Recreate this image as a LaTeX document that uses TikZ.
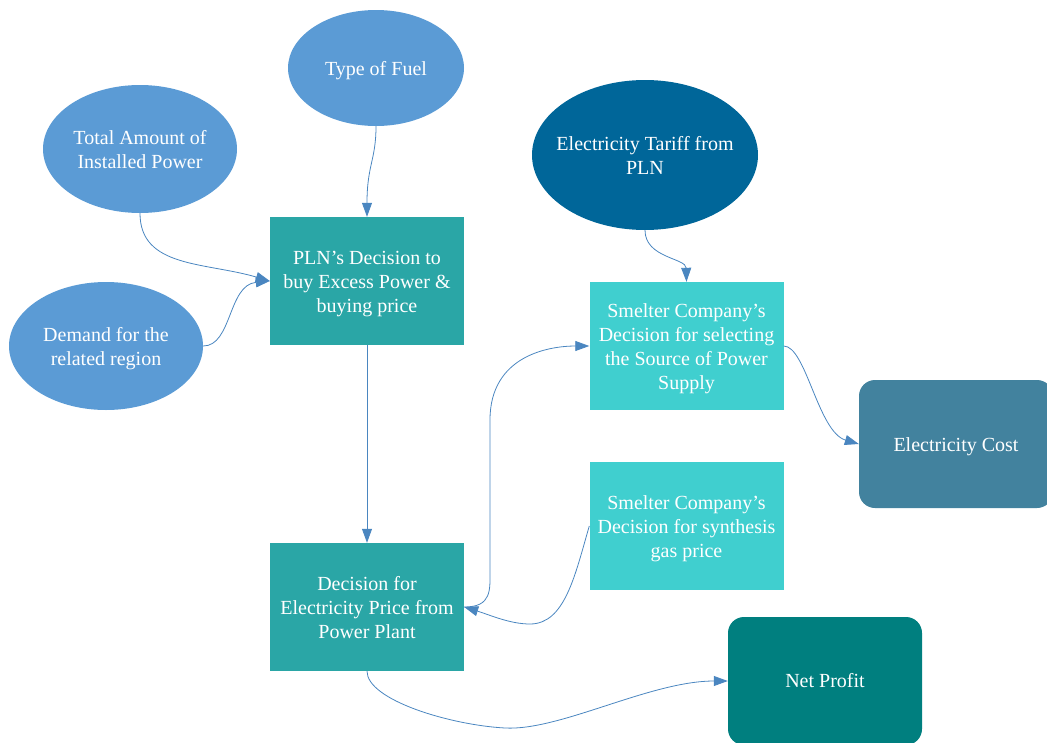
\documentclass[tikz,border=0pt]{standalone}
\usepackage{fontspec}
\setmainfont{Liberation Serif}
\usetikzlibrary{shapes.geometric,arrows.meta}

\definecolor{ovalblue}{RGB}{91,155,213}
\definecolor{deepblue}{RGB}{0,102,153}
\definecolor{tealbox}{RGB}{42,166,166}
\definecolor{cyanbox}{RGB}{64,207,207}
\definecolor{costbox}{RGB}{66,130,158}
\definecolor{profitbox}{RGB}{0,127,127}
\definecolor{linkblue}{RGB}{74,134,192}

% centred lines, set a little low, that never widen the surrounding shape
\newcommand{\centredlines}[1]{\makebox[0pt][c]{\raisebox{-2.5pt}[\height][\depth]{\begin{tabular}{@{}c@{}}#1\end{tabular}}}}

\tikzset{
  label font/.style={font=\fontsize{20}{24}\selectfont, text=white, align=center},
  oval/.style={ellipse, fill=ovalblue, draw=none, inner sep=0pt, label font},
  decisionbox/.style={rectangle, draw=none, inner sep=0pt, minimum width=194pt, minimum height=128pt, label font},
  valuebox/.style={rectangle, rounded corners=16pt, draw=none, inner sep=0pt, minimum width=194pt, minimum height=128pt, label font},
  link/.style={draw=linkblue, line width=0.8pt, -{Triangle[length=14pt,width=10pt]}}
}

\begin{document}
\begin{tikzpicture}[x=1pt, y=-1pt]
\useasboundingbox (0,0) rectangle (1047,742);
\clip (0,0) rectangle (1047,742);

% chance nodes
\node[oval, minimum width=176pt, minimum height=116pt] (fuel) at (376,68) {\centredlines{Type of Fuel}};
\node[oval, minimum width=194pt, minimum height=128pt] (installed) at (140,149) {\centredlines{Total Amount of\\Installed Power}};
\node[oval, minimum width=194pt, minimum height=128pt] (demand) at (106,346) {\centredlines{Demand for the\\related region}};
\node[oval, fill=deepblue, minimum width=226pt, minimum height=150pt] (tariff) at (645,155) {\centredlines{Electricity Tariff from\\PLN}};

% decision nodes
\node[decisionbox, fill=tealbox] (pln) at (367,281) {\centredlines{PLN’s Decision to\\buy Excess Power \&\\buying price}};
\node[decisionbox, fill=tealbox] (price) at (367,607) {\centredlines{Decision for\\Electricity Price from\\Power Plant}};
\node[decisionbox, fill=cyanbox] (source) at (686.5,346) {\centredlines{Smelter Company’s\\Decision for selecting\\the Source of Power\\Supply}};
\node[decisionbox, fill=cyanbox] (gas) at (686.5,526) {\centredlines{Smelter Company’s\\Decision for synthesis\\gas price}};

% value nodes
\node[valuebox, fill=costbox] (cost) at (956,444) {\centredlines{Electricity Cost}};
\node[valuebox, fill=profitbox] (profit) at (825,681) {Net Profit};

% influences
\draw[link] (fuel.south) .. controls (376,160) and (367,165) .. (pln.north);
\draw[link] (installed.south) .. controls (140,268) and (205,262) .. (pln.west);
\draw[link] (demand.east) .. controls (232,346) and (228,285) .. (pln.west);
\draw[link] (tariff.south) .. controls (645,258) and (686,258) .. (source.north);
\draw[link] (pln.south) -- (price.north);
\draw[link] (price.east) .. controls (492,607) and (490,590) .. (490,570)
  -- (490,420) .. controls (490,355) and (550,346) .. (source.west);
\draw[link] (gas.west) .. controls (575,575) and (565,624) .. (530,624)
  .. controls (510,624) and (490,615) .. (price.east);
\draw[link] (source.east) .. controls (806,346) and (818,432) .. (cost.west);
\draw[link] (price.south) .. controls (367,700) and (450,725) .. (505,728)
  .. controls (560,731) and (650,681) .. (profit.west);
\end{tikzpicture}
\end{document}
